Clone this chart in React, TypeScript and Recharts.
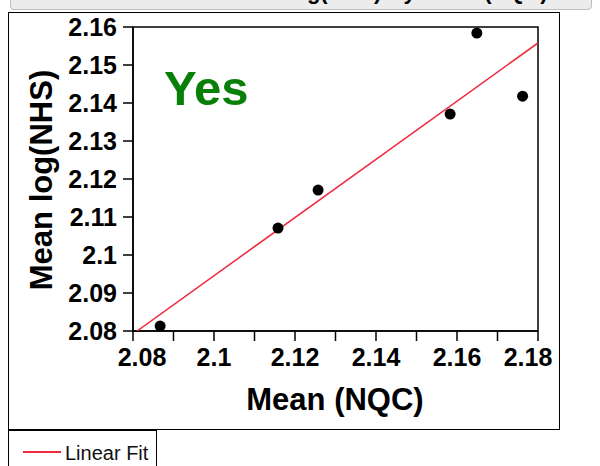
import React from "react";
import {
  ScatterChart,
  Scatter,
  XAxis,
  YAxis,
  ReferenceArea,
  Legend,
} from "recharts";

const nqcMeans = [2.0867, 2.1158, 2.1257, 2.1583, 2.1649, 2.1762];
const nhsMeans = [2.0813, 2.1071, 2.1171, 2.1371, 2.1584, 2.1418];
const fitNqc = [2.081, 2.18];
const fitNhs = [2.08, 2.1558];
const xTicks = [2.08, 2.09, 2.1, 2.11, 2.12, 2.13, 2.14, 2.15, 2.16, 2.17, 2.18];
const yTicks = [2.08, 2.09, 2.1, 2.11, 2.12, 2.13, 2.14, 2.15, 2.16];

const points = nqcMeans.map((x, i) => ({ x, y: nhsMeans[i] }));
const fitLine = fitNqc.map((x, i) => ({ x, y: fitNhs[i] }));

const FONT = "Arial, 'Liberation Sans', sans-serif";
const FIT_RED = "#f0283c";

function Dot(props: { cx?: number; cy?: number }) {
  if (props.cx == null || props.cy == null) return null;
  return <circle cx={props.cx} cy={props.cy} r={5.5} fill="#000" />;
}

// JMP nudges the end labels inward so they stay inside the frame
function XTick(props: { x?: number; y?: number; index?: number; payload?: { value: number } }) {
  const { x = 0, y = 0, index = 0, payload } = props;
  if (!payload || index % 2 !== 0) return null;
  const last = xTicks.length - 1;
  const shift = index === 0 ? 9 : index === last ? -10 : 0;
  return (
    <text
      x={x + shift}
      y={y}
      dy="0.71em"
      textAnchor="middle"
      fill="#000"
      fontSize={25}
      fontWeight="bold"
      fontFamily={FONT}
    >
      {String(payload.value)}
    </text>
  );
}

function FitLegend() {
  return (
    <div
      style={{
        width: 149,
        height: 40,
        borderLeft: "1.5px solid #000",
        borderTop: "1.5px solid #000",
        borderRight: "1.5px solid #000",
        boxSizing: "border-box",
        position: "relative",
        fontFamily: FONT,
        background: "#fff",
      }}
    >
      <div style={{ position: "absolute", left: 14, top: 20, width: 38, height: 1.5, background: FIT_RED }} />
      <span style={{ position: "absolute", left: 56, top: 11, fontSize: 20, color: "#111", whiteSpace: "nowrap" }}>
        Linear Fit
      </span>
    </div>
  );
}

export default function App() {
  return (
    <div style={{ position: "absolute", left: 0, top: 0, width: 600, height: 466, background: "#fff", overflow: "hidden" }}>
      {/* clipped report title strip */}
      <div
        style={{
          position: "absolute",
          left: 10,
          top: -4,
          width: 580,
          height: 12,
          background: "#ececec",
          border: "1px solid #bdbdbd",
          borderRadius: 4,
          overflow: "hidden",
        }}
      >
        <span
          style={{
            position: "absolute",
            left: 214,
            top: -18,
            fontFamily: FONT,
            fontWeight: "bold",
            fontSize: 22,
            whiteSpace: "nowrap",
          }}
        >
          Mean log(NHS) By Mean (NQC)
        </span>
      </div>
      <div
        style={{
          position: "absolute",
          left: 8,
          top: 12,
          width: 552,
          height: 418,
          border: "1.5px solid #000",
          boxSizing: "border-box",
        }}
      />
      <div style={{ position: "absolute", left: 0, top: 0 }}>
        <ScatterChart width={600} height={466} margin={{ top: 27, right: 62, bottom: 65, left: 8 }}>
          <XAxis
            type="number"
            dataKey="x"
            domain={[2.08, 2.18]}
            ticks={xTicks}
            interval={0}
            allowDataOverflow
            height={70}
            tickSize={10}
            tickMargin={7}
            axisLine={{ stroke: "#000", strokeWidth: 1.5 }}
            tickLine={{ stroke: "#000", strokeWidth: 1.5 }}
            tick={<XTick />}
            label={{
              content: () => (
                <text x={335} y={410} textAnchor="middle" fontFamily={FONT} fontWeight="bold" fontSize={31} fill="#000">
                  Mean (NQC)
                </text>
              ),
            }}
          />
          <YAxis
            type="number"
            dataKey="y"
            domain={[2.08, 2.16]}
            ticks={yTicks}
            interval={0}
            allowDataOverflow
            width={125}
            tickSize={10}
            tickMargin={6}
            axisLine={{ stroke: "#000", strokeWidth: 1.5 }}
            tickLine={{ stroke: "#000", strokeWidth: 1.5 }}
            tick={{ fill: "#000", fontSize: 25, fontWeight: "bold", fontFamily: FONT }}
            tickFormatter={(v: number) => String(v)}
            label={{
              content: () => (
                <text
                  x={52}
                  y={180}
                  transform="rotate(-90, 52, 180)"
                  textAnchor="middle"
                  fontFamily={FONT}
                  fontWeight="bold"
                  fontSize={31}
                  fill="#000"
                >
                  Mean log(NHS)
                </text>
              ),
            }}
          />
          <ReferenceArea
            x1={2.08}
            x2={2.18}
            y1={2.08}
            y2={2.16}
            fill="none"
            stroke="#000"
            strokeWidth={1.5}
            label={{
              content: () => (
                <text x={164} y={105} fontFamily={FONT} fontWeight="bold" fontSize={49} fill="#088008">
                  Yes
                </text>
              ),
            }}
          />
          <Scatter
            name="Linear Fit"
            data={fitLine}
            line={{ stroke: FIT_RED, strokeWidth: 1.5 }}
            shape={() => null}
            legendType="line"
            isAnimationActive={false}
          />
          <Scatter name="Means" data={points} fill="#000" shape={<Dot />} isAnimationActive={false} />
          <Legend
            layout="vertical"
            align="center"
            verticalAlign="middle"
            content={() => <FitLegend />}
            wrapperStyle={{ left: 8, top: 430, width: 149, height: 40 }}
          />
        </ScatterChart>
      </div>
    </div>
  );
}
